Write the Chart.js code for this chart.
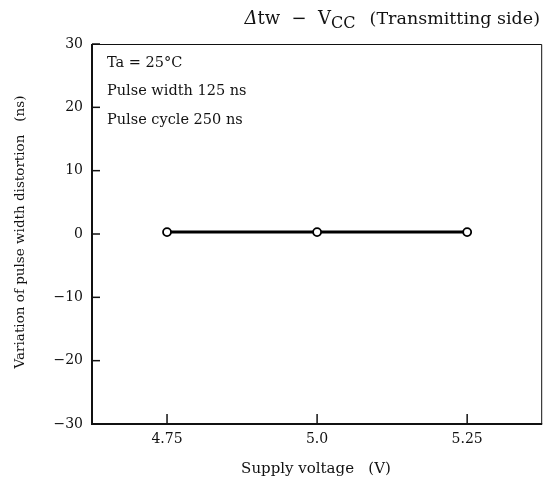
<!DOCTYPE html>
<html>
<head>
<meta charset="utf-8">
<script src="https://cdn.jsdelivr.net/npm/chart.js@4/dist/chart.umd.min.js"></script>
<style>
  html, body { margin: 0; padding: 0; background: #fff; }
  #wrap { width: 548px; height: 486px; }
</style>
</head>
<body>
<div id="wrap"><canvas id="grafico" width="548" height="486"></canvas></div>
<script>
// datos
const voltajes = [4.75, 5.0, 5.25];
const distorsion = [0.3, 0.3, 0.3];
const ticksX = [4.75, 5.0, 5.25];
const etiquetasX = ['4.75', '5.0', '5.25'];
const ticksY = [-30, -20, -10, 0, 10, 20, 30];
const notas = ['Ta = 25°C', 'Pulse width 125 ns', 'Pulse cycle 250 ns'];

const FUENTE = '"DejaVu Serif", "Liberation Serif", serif';

// textos, marcas de escala hacia dentro y bordes
const decoracion = {
    id: 'decoracion',
    afterDraw(chart) {
        const ctx = chart.ctx;
        const a = chart.chartArea;
        const sx = chart.scales.x, sy = chart.scales.y;
        ctx.save();
        ctx.strokeStyle = '#111';
        // bordes finos arriba / derecha
        ctx.lineWidth = 1;
        ctx.beginPath();
        ctx.moveTo(a.left, a.top + 0.5); ctx.lineTo(a.right - 0.5, a.top + 0.5); ctx.lineTo(a.right - 0.5, a.bottom);
        ctx.stroke();
        // ejes gruesos
        ctx.lineWidth = 2;
        ctx.beginPath();
        ctx.moveTo(a.left, a.top); ctx.lineTo(a.left, a.bottom); ctx.lineTo(a.right, a.bottom);
        ctx.stroke();
        // marcas hacia dentro
        ctx.lineWidth = 1.5;
        ticksY.forEach(v => {
            const y = sy.getPixelForValue(v);
            ctx.beginPath(); ctx.moveTo(a.left, y); ctx.lineTo(a.left + 8, y); ctx.stroke();
        });
        ticksX.forEach(v => {
            const x = sx.getPixelForValue(v);
            ctx.beginPath(); ctx.moveTo(x, a.bottom); ctx.lineTo(x, a.bottom - 10); ctx.stroke();
        });

        ctx.fillStyle = '#111';
        // etiquetas de ticks
        ctx.font = '14px ' + FUENTE;
        ctx.textAlign = 'right'; ctx.textBaseline = 'middle';
        ticksY.forEach(v => {
            const txt = v < 0 ? '\u2212' + Math.abs(v) : String(v);
            ctx.fillText(txt, a.left - 9, sy.getPixelForValue(v));
        });
        ctx.textAlign = 'center'; ctx.textBaseline = 'top';
        ticksX.forEach((v, i) => ctx.fillText(etiquetasX[i], sx.getPixelForValue(v), a.bottom + 8));

        // notas
        ctx.font = '14.5px ' + FUENTE;
        ctx.textAlign = 'left'; ctx.textBaseline = 'middle';
        notas.forEach((t, i) => ctx.fillText(t, a.left + 15, a.top + 19 + i * 28.5));

        // título del eje x
        ctx.font = '15px ' + FUENTE;
        ctx.textAlign = 'center'; ctx.textBaseline = 'middle';
        ctx.fillText('Supply voltage   (V)', 316, 469);

        // título del eje y
        ctx.save();
        ctx.translate(20, 232);
        ctx.rotate(-Math.PI / 2);
        ctx.font = '13.5px ' + FUENTE;
        ctx.fillText('Variation of pulse width distortion   (ns)', 0, 0);
        ctx.restore();

        // título con subíndice, alineado a la derecha
        ctx.textBaseline = 'alphabetic';
        ctx.textAlign = 'left';
        const yb = 24;
        const partes = [
            { t: '\u0394', f: 'italic 18px ', dy: 0, gap: 0 },
            { t: 'tw  \u2212  V', f: '18px ', dy: 0, gap: 0 },
            { t: 'CC', f: '16px ', dy: 4, gap: 14 },
            { t: '(Transmitting side)', f: '17.5px ', dy: 0, gap: 0 }
        ];
        let total = 0;
        partes.forEach(p => { ctx.font = p.f + FUENTE; p.w = ctx.measureText(p.t).width; total += p.w + p.gap; });
        let x = 540 - total;
        partes.forEach(p => {
            ctx.font = p.f + FUENTE;
            ctx.fillText(p.t, x, yb + p.dy);
            x += p.w + p.gap;
        });
        ctx.restore();
    }
};

new Chart(document.getElementById('grafico'), {
    type: 'line',
    data: {
        datasets: [{
            data: voltajes.map((v, i) => ({ x: v, y: distorsion[i] })),
            borderColor: '#000',
            borderWidth: 3,
            pointRadius: 4,
            pointBorderWidth: 1.8,
            pointBackgroundColor: '#fff',
            pointBorderColor: '#000',
            tension: 0
        }]
    },
    options: {
        responsive: false,
        animation: false,
        layout: { padding: { top: 44, right: 2, left: 0, bottom: 0 } },
        plugins: { legend: { display: false }, title: { display: false }, tooltip: { enabled: false } },
        scales: {
            x: {
                type: 'linear', min: 4.625, max: 5.375,
                grid: { display: false }, border: { display: false },
                ticks: { display: false },
                afterFit: s => { s.height = 62; }
            },
            y: {
                min: -30, max: 30,
                grid: { display: false }, border: { display: false },
                ticks: { display: false },
                afterFit: s => { s.width = 92; }
            }
        }
    },
    plugins: [decoracion]
});
</script>
</body>
</html>
